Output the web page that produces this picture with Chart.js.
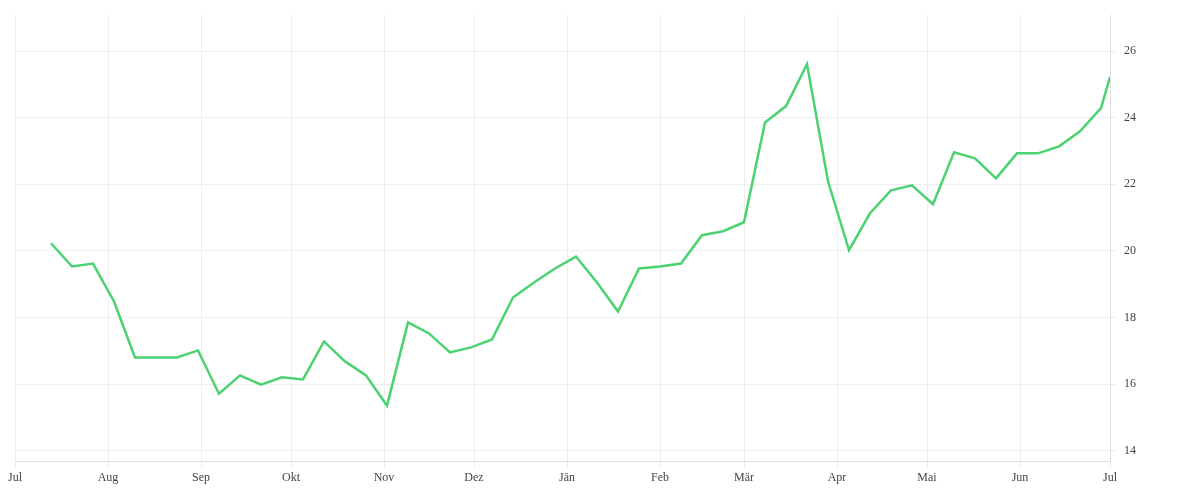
<!DOCTYPE html>
<html>
<head>
<meta charset="utf-8">
<script src="https://cdn.jsdelivr.net/npm/chart.js@4/dist/chart.umd.min.js"></script>
<style>
  body { margin: 0; background: #fff; }
  #wrap { width: 1200px; height: 500px; }
</style>
</head>
<body>
<div id="wrap"><canvas id="chart1"></canvas></div>
<script>
// days since 1 Jul, weekly points
const days = [];
for (let d = 12; d <= 362; d += 7) days.push(d);
days.push(365);

const values = [20.23, 19.53, 19.62, 18.48, 16.80, 16.80, 16.80, 17.01, 15.71, 16.26,
  15.98, 16.20, 16.14, 17.28, 16.68, 16.26, 15.35, 17.85, 17.52, 16.95,
  17.10, 17.34, 18.60, 19.05, 19.47, 19.83, 19.05, 18.18, 19.47, 19.53,
  19.62, 20.47, 20.59, 20.86, 23.86, 24.35, 25.61, 22.09, 20.02, 21.13,
  21.82, 21.97, 21.40, 22.96, 22.78, 22.18, 22.93, 22.93, 23.14, 23.59,
  24.29, 25.22];

const monthDays = [0, 31, 62, 92, 123, 153, 184, 215, 243, 274, 304, 335, 365];
const monthLabels = ['Jul', 'Aug', 'Sep', 'Okt', 'Nov', 'Dez', 'Jän', 'Feb', 'Mär', 'Apr', 'Mai', 'Jun', 'Jul'];

const yTicks = [14, 16, 18, 20, 22, 24, 26];

const tickFont = { family: 'Liberation Serif', size: 12 };

const config = {
  type: 'line',
  data: {
    datasets: [{
      data: days.map((d, i) => ({ x: d, y: values[i] })),
      borderColor: '#4cd271',
      borderWidth: 2.5,
      pointRadius: 0,
      tension: 0,
      fill: false,
    }],
  },
  options: {
    responsive: true,
    maintainAspectRatio: false,
    animation: false,
    layout: { padding: { left: 15, top: 9, right: 56, bottom: 12 } },
    plugins: { legend: { display: false }, tooltip: { enabled: false } },
    scales: {
      x: {
        type: 'linear',
        min: 0,
        max: 365,
        afterBuildTicks: (axis) => { axis.ticks = monthDays.map(v => ({ value: v })); },
        ticks: {
          autoSkip: false,
          maxRotation: 0,
          color: '#444',
          font: tickFont,
          callback: (v, i) => monthLabels[i],
        },
        grid: { color: '#eeeeee', drawTicks: true, tickLength: 6 },
        border: { color: '#dddddd' },
      },
      y: {
        position: 'right',
        min: 13.67,
        max: 27.08,
        afterBuildTicks: (axis) => { axis.ticks = yTicks.map(v => ({ value: v })); },
        ticks: { color: '#444', font: tickFont, padding: 8 },
        grid: { color: '#eeeeee', tickLength: 6 },
        border: { color: '#dddddd' },
      },
    },
  },
};

var myChart = new Chart(document.getElementById('chart1'), config);
</script>
</body>
</html>
